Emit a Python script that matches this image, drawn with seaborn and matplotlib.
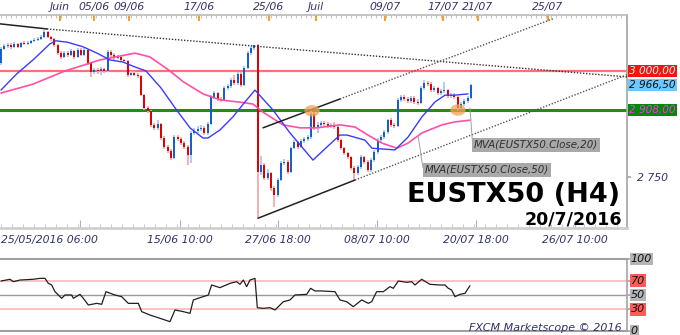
import numpy as np
import pandas as pd
import matplotlib
matplotlib.use("Agg")
import matplotlib.pyplot as plt
import matplotlib.transforms as mtransforms
from matplotlib.patches import Ellipse
from matplotlib.ticker import MultipleLocator
import seaborn as sns

# ---------------- data ----------------
first_open = 3019
closes = [3052, 3059, 3061, 3057, 3064, 3057, 3066, 3064, 3066, 3071,
          3073, 3075, 3080, 3092, 3080, 3075, 3061, 3042, 3033, 3042,
          3038, 3047, 3033, 3050, 3038, 3050, 3019, 2998, 3002, 3000,
          3005, 3000, 3045, 3038, 3031, 3033, 3026, 3024, 2991, 2995,
          2991, 2988, 2943, 2913, 2906, 2873, 2866, 2875, 2842, 2821,
          2811, 2795, 2844, 2840, 2830, 2821, 2802, 2854, 2859, 2863,
          2866, 2854, 2875, 2939, 2948, 2934, 2932, 2960, 2965, 2979,
          2972, 2993, 2967, 3007, 3042, 3054, 3061, 2762, 2778, 2748,
          2759, 2724, 2708, 2743, 2783, 2785, 2762, 2818, 2833, 2821,
          2835, 2840, 2844, 2899, 2868, 2873, 2877, 2875, 2870, 2873,
          2868, 2837, 2818, 2807, 2797, 2771, 2759, 2774, 2797, 2785,
          2767, 2790, 2809, 2837, 2844, 2856, 2884, 2873, 2870, 2932,
          2939, 2934, 2929, 2936, 2927, 2925, 2960, 2972, 2969, 2955,
          2960, 2948, 2953, 2955, 2941, 2943, 2939, 2913, 2922, 2929,
          2936, 2966.5]
highs = [3056, 3063, 3066, 3065, 3068, 3067, 3069, 3070, 3070, 3074,
         3077, 3079, 3084, 3097, 3095, 3083, 3078, 3064, 3046, 3046,
         3048, 3052, 3050, 3054, 3053, 3055, 3052, 3022, 3006, 3007,
         3010, 3008, 3050, 3049, 3042, 3037, 3036, 3029, 3027, 3000,
         2999, 2996, 2990, 2946, 2918, 2909, 2878, 2885, 2878, 2846,
         2826, 2815, 2849, 2850, 2845, 2835, 2826, 2858, 2866, 2870,
         2872, 2870, 2879, 2943, 2953, 2951, 2939, 2964, 2970, 2983,
         2990, 2998, 2998, 3012, 3046, 3059, 3062, 3063, 2800, 2783,
         2768, 2762, 2728, 2748, 2788, 2792, 2790, 2822, 2838, 2836,
         2840, 2845, 2850, 2908, 2903, 2880, 2882, 2883, 2880, 2878,
         2880, 2872, 2840, 2822, 2810, 2800, 2775, 2778, 2802, 2800,
         2790, 2795, 2814, 2842, 2850, 2862, 2888, 2889, 2877, 2936,
         2944, 2943, 2939, 2940, 2940, 2933, 2964, 2978, 2977, 2973,
         2965, 2963, 2958, 2975, 2958, 2948, 2947, 2942, 2926, 2933,
         2940, 2970]
lows = [3015, 3049, 3055, 3052, 3054, 3053, 3054, 3060, 3061, 3063,
        3068, 3070, 3072, 3078, 3077, 3070, 3057, 3038, 3028, 3030,
        3033, 3035, 3029, 3030, 3035, 3036, 3014, 2985, 2993, 2992,
        2990, 2995, 2997, 3034, 3027, 3028, 3022, 3020, 2986, 2988,
        2987, 2984, 2940, 2908, 2900, 2868, 2860, 2862, 2838, 2816,
        2806, 2790, 2792, 2835, 2826, 2816, 2778, 2783, 2850, 2855,
        2858, 2850, 2850, 2872, 2934, 2930, 2927, 2929, 2956, 2961,
        2968, 2968, 2962, 2964, 3004, 3038, 3050, 2653, 2755, 2743,
        2744, 2718, 2679, 2704, 2740, 2779, 2757, 2760, 2815, 2817,
        2818, 2830, 2836, 2840, 2860, 2855, 2868, 2870, 2866, 2866,
        2864, 2833, 2813, 2802, 2792, 2766, 2743, 2755, 2770, 2780,
        2762, 2763, 2786, 2805, 2833, 2840, 2852, 2869, 2865, 2867,
        2928, 2930, 2925, 2925, 2922, 2920, 2922, 2956, 2964, 2950,
        2950, 2944, 2944, 2948, 2937, 2937, 2934, 2908, 2910, 2918,
        2925, 2933]

ma20_bar = [0, 4.7, 9.6, 14.7, 16.5, 19.8, 24.6, 28.8, 32.7, 36.6, 40.0, 43.5,
            48.0, 52.5, 56.7, 60.6, 62.1, 65.7, 69.6, 73.2, 76.2, 81.6, 86.7,
            93.6, 97.8, 101.7, 103.8, 109.2, 111.3, 118.2, 122.1, 126.3, 130.2,
            133.2, 136.2, 140.1]
ma20_val = [2955, 2993, 3026, 3064, 3071, 3068, 3057, 3042, 3026, 3021, 3010, 3000,
            2960, 2910, 2866, 2842, 2842, 2861, 2892, 2927, 2955, 2908, 2854,
            2790, 2821, 2849, 2849, 2837, 2818, 2814, 2844, 2892, 2927,
            2943, 2943, 2946]
ma50_bar = [0, 9.6, 19.2, 29.7, 40.2, 44.7, 50.7, 54.6, 60.6, 65.7, 73.2, 75.6,
            78.6, 84.6, 89.7, 94.8, 101.7, 106.2, 110.1, 114.3, 118.8, 122.1,
            126.3, 132.3, 136.2, 140.7]
ma50_val = [2948, 2969, 3000, 3026, 3042, 3033, 3000, 2975, 2946, 2932, 2925, 2922,
            2903, 2873, 2866, 2866, 2873, 2868, 2849, 2830, 2818, 2830,
            2854, 2873, 2880, 2884]

rsi_bar = [0, 2.7, 3.7, 5.7, 9.6, 11.7, 13.2, 14.2, 15.2, 16.2, 18.2, 19.2, 21.2,
           21.7, 23.7, 24.7, 26.2, 28.7, 30.2, 31.5, 34.2, 36.2, 38.2, 41.2, 42.2,
           44.7, 47.7, 50.7, 52.2, 54.7, 56.7, 57.7, 59.7, 62.2, 63.2, 65.7, 68.7,
           70.7, 71.7, 72.7, 73.7, 74.7, 76.2, 76.9, 78.7, 80.7, 82.2, 84.7, 86.7,
           88.2, 91.7, 92.9, 94.2, 96.2, 100.2, 101.7, 103.7, 105.7, 108.2, 110.2,
           111.2, 112.7, 114.7, 116.7, 117.7, 119.2, 121.7, 123.2, 124.2, 126.2,
           128.7, 131.7, 133.2, 134.2, 135.2, 136.2, 137.7, 139.2, 140.7]
rsi_val = [69.4, 71.8, 68.5, 70.8, 71.8, 73.1, 73.1, 66.2, 63.9, 54.6, 45.4, 50, 50,
           45.4, 50.9, 45.4, 36.1, 38.4, 37.1, 54.6, 50, 47.7, 38.4, 38.4, 26.9,
           22.2, 17.6, 13, 29.2, 26.9, 24.5, 43.1, 46.3, 50, 63.9, 60.2, 66.2,
           68.5, 64.8, 70.8, 61.6, 70.8, 73.1, 32.4, 31.5, 32.4, 29.2, 40.7, 43.1,
           50, 50.9, 59.3, 55.6, 55.6, 54.6, 43.1, 40.7, 33.8, 43.1, 38.4,
           40.7, 54.6, 54.6, 61.6, 59.3, 69.4, 67.6, 68.5, 63.9, 71.8,
           64.8, 63.9, 63.9, 59.3, 56.9, 47.7, 50.9, 52.3, 62.9]

# analyst trend lines (bar, price)
trend_top_solid = ([-0.3, 13.8], [3111, 3099])
trend_top_dotted = ([13.8, 187.8], [3099, 2986])
trend_up_solid = ([78.6, 101.7], [2866, 2934])
trend_up_dotted = ([101.7, 165.6], [2934, 3123])
trend_low_solid = ([77.1, 106.2], [2653, 2743])
trend_low_dotted = ([106.2, 187.8], [2743, 2991])
highlight_bar = [93.3, 137.1]
highlight_price = [2906, 2908]

resistance = 3000
support = 2908
last_price = 2966.5
price_labels = ["3 000,00", "2 966,50", "2 908,00"]

top_tick_pos = [17.7, 27.9, 38.4, 59.4, 80.4, 94.5, 115.2, 132.6, 143.1, 164.1]
top_tick_labels = ["Juin", "05/06", "09/06", "17/06", "25/06", "Juil",
                   "09/07", "17/07", "21/07", "25/07"]
bottom_tick_pos = [23.7, 53.7, 83.1, 112.8, 142.5, 172.2]
bottom_tick_labels = ["", "15/06 10:00", "27/06 18:00", "08/07 10:00",
                      "20/07 18:00", "26/07 10:00"]
first_date_label = "25/05/2016 06:00"
rsi_levels = [100, 70, 50, 30, 0]

# ---------------- style ----------------
sns.set_theme(style="white")
plt.rcParams["font.family"] = ["DejaVu Sans"]
NAVY = "#33336b"

fig = plt.figure(figsize=(6.8, 3.35), dpi=100)
ax = fig.add_axes([0.0, 0.3194, 0.922, 0.636])
axr = fig.add_axes([0.0, 0.0119, 0.922, 0.215])

n = len(closes)
df = pd.DataFrame({"bar": np.arange(n), "close": closes, "high": highs, "low": lows})
df["open"] = [first_open] + closes[:-1]
df["bull"] = df["close"] >= df["open"]

XMIN, XMAX = -0.3, 187.8
ax.set_xlim(XMIN, XMAX)
ax.set_ylim(2630, 3132)

# levels
ax.axhline(resistance, color="#ff7070", lw=1.6, zorder=1)
ax.axhline(support, color="#1e8c1e", lw=2.2, zorder=1)

# wicks
wick_col = np.where(df["bull"], "#a9c9f0", "#f4a8a8")
ax.vlines(df["bar"], df["low"], df["high"], colors=wick_col, lw=1.3, zorder=2)
# bodies
body_bottom = np.minimum(df["open"], df["close"])
body_h = np.maximum(np.abs(df["close"] - df["open"]), 1.5)
body_col = np.where(df["bull"], "#1560d0", "#e00000")
ax.bar(df["bar"], body_h, bottom=body_bottom, width=0.62, color=body_col,
       edgecolor="none", zorder=3)

# moving averages
sns.lineplot(x=ma50_bar, y=ma50_val, ax=ax, color="#ff4fa7", lw=1.2,
             sort=False, estimator=None, zorder=4)
sns.lineplot(x=ma20_bar, y=ma20_val, ax=ax, color="#3b3bff", lw=1.0,
             sort=False, estimator=None, zorder=4)

# trend lines
ax.plot(*trend_top_solid, color="#222222", lw=1.1, zorder=5)
ax.plot(*trend_top_dotted, color="#333333", lw=1.0, ls=(0, (1, 1.2)), zorder=5)
ax.plot(*trend_up_solid, color="#222222", lw=1.1, zorder=5)
ax.plot(*trend_up_dotted, color="#555555", lw=1.0, ls=(0, (1, 1.2)), zorder=5)
ax.plot(*trend_low_solid, color="#222222", lw=1.1, zorder=5)
ax.plot(*trend_low_dotted, color="#555555", lw=1.0, ls=(0, (1, 1.2)), zorder=5)

for bx, py in zip(highlight_bar, highlight_price):
    ax.add_patch(Ellipse((bx, py), 4.6, 27, color="#f5a055", alpha=0.75, lw=0, zorder=6))

# MVA labels with leader lines
ax.plot([140.7, 141.4], [2913, 2838], color="#a0a0a0", lw=0.7, zorder=5)
ax.plot([125.1, 126.6], [2849, 2772], color="#a0a0a0", lw=0.7, zorder=5)
ax.text(141.9, 2826, "MVA(EUSTX50.Close,20)", fontsize=7.4, style="italic",
        color="#303030", va="center", ha="left", zorder=7,
        bbox=dict(boxstyle="square,pad=0.2", fc="#a9a9a9", ec="none"))
ax.text(127.2, 2767, "MVA(EUSTX50.Close,50)", fontsize=7.4, style="italic",
        color="#303030", va="center", ha="left", zorder=7,
        bbox=dict(boxstyle="square,pad=0.2", fc="#a9a9a9", ec="none"))

# axes decoration (main)
for s in ["left"]:
    ax.spines[s].set_visible(False)
ax.spines["top"].set_color("#bdbdbd")
ax.spines["right"].set_color("#a8a8a8")
ax.spines["bottom"].set_color("#cfcfcf")
ax.spines["bottom"].set_linewidth(2)

ax.xaxis.tick_top()
ax.set_xticks(top_tick_pos)
ax.set_xticklabels(top_tick_labels, fontsize=7.8, style="italic", color=NAVY)
ax.xaxis.set_minor_locator(MultipleLocator(1.5))
ax.tick_params(axis="x", which="major", direction="in", length=4, width=1.5,
               color="#f0a030", pad=2)
ax.tick_params(axis="x", which="minor", direction="in", length=2.5, width=0.6,
               color="#b8b8b8", top=True, bottom=False)

sec = ax.secondary_xaxis("bottom")
sec.set_xticks(bottom_tick_pos)
sec.set_xticklabels(bottom_tick_labels, fontsize=7.8, style="italic", color=NAVY)
sec.xaxis.set_minor_locator(MultipleLocator(3.3))
sec.tick_params(axis="x", which="major", direction="in", length=6, width=0.8,
                color="#b0b0b0", pad=5)
sec.tick_params(axis="x", which="minor", direction="in", length=3, width=0.6,
                color="#c0c0c0")
sec.spines["bottom"].set_visible(False)
fig.text(0.002, 1 - 240 / 335, first_date_label, fontsize=7.8, style="italic",
         color=NAVY, ha="left", va="center")

ax.yaxis.tick_right()
ax.set_yticks([2750])
ax.set_yticklabels(["2 750"], fontsize=7.8, style="italic", color=NAVY)
ax.tick_params(axis="y", direction="out", length=3, color="#a8a8a8", pad=4)
ax.set_xlabel("")
ax.set_ylabel("")

trans = mtransforms.blended_transform_factory(ax.transAxes, ax.transData)
box_specs = [(resistance, price_labels[0], "#ff1010", "#b0ffff"),
             (last_price, price_labels[1], "#6cc8ff", "#101010"),
             (support, price_labels[2], "#008a00", "#ff30ff")]
for py, lab, fc, tc in box_specs:
    ax.text(1.004, py, lab, transform=trans, fontsize=7.6, style="italic",
            color=tc, va="center", ha="left", clip_on=False,
            bbox=dict(boxstyle="square,pad=0.12", fc=fc, ec="none"))

# ---------------- RSI panel ----------------
axr.set_xlim(XMIN, XMAX)
axr.set_ylim(0, 100)
axr.axhline(70, color="#f7b9b9", lw=1.2)
axr.axhline(30, color="#f7b9b9", lw=1.2)
axr.axhline(50, color="#9a9a9a", lw=1.0)
sns.lineplot(x=rsi_bar, y=rsi_val, ax=axr, color="#202020", lw=0.9,
             sort=False, estimator=None)
axr.spines["left"].set_visible(False)
for s in ["top", "bottom"]:
    axr.spines[s].set_color("#a0a0a0")
    axr.spines[s].set_linewidth(1.5)
axr.spines["right"].set_color("#a8a8a8")
axr.set_xticks([])
axr.yaxis.tick_right()
axr.set_yticks(rsi_levels)
axr.set_yticklabels([])
axr.tick_params(axis="y", direction="out", length=3, color="#a8a8a8")
axr.set_xlabel("")
axr.set_ylabel("")
transr = mtransforms.blended_transform_factory(axr.transAxes, axr.transData)
for lv in rsi_levels:
    fc = "#ff5a5a" if lv in (70, 30) else "#b4b4b4"
    axr.text(1.006, lv, str(lv), transform=transr, fontsize=8, style="italic",
             color="#111111", va="center", ha="left", clip_on=False,
             bbox=dict(boxstyle="square,pad=0.1", fc=fc, ec="none"))

fig.text(622 / 680, 1 - 328 / 335, "FXCM Marketscope \u00a9 2016", fontsize=8,
         style="italic", color=NAVY, ha="right", va="center")

# title overlay
fig.text(0.912, 1 - 202 / 335, "EUSTX50 (H4)", fontsize=19.5, weight="bold",
         color="black", ha="right", va="baseline")
fig.text(0.915, 1 - 224 / 335, "20/7/2016", fontsize=12.5, weight="bold",
         color="black", ha="right", va="baseline")

fig.savefig("out.png", dpi=100)
